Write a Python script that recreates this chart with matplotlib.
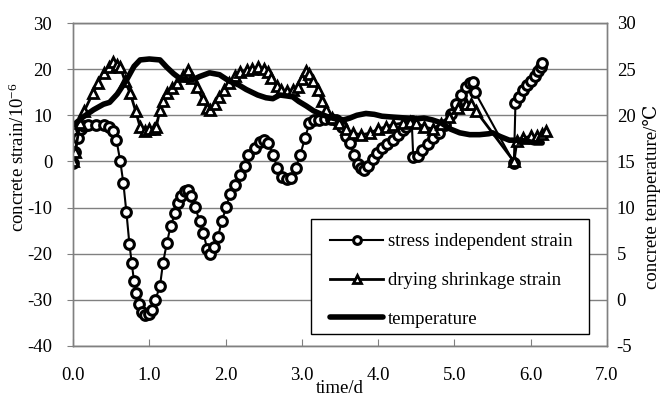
import matplotlib
matplotlib.use("Agg")
import matplotlib.pyplot as plt
from matplotlib.patches import Rectangle

# ── Data ─────────────────────────────────────────────────────────────────────
t_stress = [0.00, 0.03, 0.06, 0.10, 0.15, 0.20, 0.30, 0.40, 0.47, 0.52, 0.57, 0.62,
            0.66, 0.70, 0.74, 0.77, 0.80, 0.83, 0.87, 0.91, 0.95, 0.99, 1.03, 1.08,
            1.14, 1.18, 1.23, 1.28, 1.34, 1.38, 1.42, 1.47, 1.51, 1.55, 1.60, 1.66,
            1.71, 1.76, 1.80, 1.85, 1.90, 1.95, 2.01, 2.06, 2.12, 2.19, 2.25, 2.30,
            2.38, 2.45, 2.50, 2.56, 2.62, 2.68, 2.74, 2.80, 2.86, 2.92, 2.98, 3.04,
            3.10, 3.16, 3.23, 3.30, 3.38, 3.45, 3.52, 3.58, 3.63, 3.68, 3.73, 3.78,
            3.82, 3.87, 3.93, 3.98, 4.05, 4.12, 4.19, 4.26, 4.32, 4.37, 4.44, 4.46,
            4.52, 4.58, 4.65, 4.72, 4.80, 4.88, 4.95, 5.02, 5.08, 5.15, 5.20, 5.24,
            5.27, 5.78, 5.80, 5.85, 5.90, 5.95, 6.00, 6.05, 6.10, 6.13, 6.15]
stress_strain = [-0.3, 2.0, 5.0, 7.0, 7.7, 7.8, 7.8, 7.8, 7.5, 6.5, 4.6, 0.0,
                 -4.7, -11.0, -18.0, -22.0, -26.0, -28.6, -31.0, -32.6, -33.2, -33.0, -32.2, -30.0,
                 -27.0, -22.0, -17.7, -14.0, -11.2, -9.0, -7.6, -6.5, -6.2, -7.5, -9.8, -13.0,
                 -15.6, -19.0, -20.0, -18.5, -16.3, -13.0, -9.8, -7.0, -5.0, -3.0, -1.0, 1.4,
                 3.0, 4.3, 4.6, 4.0, 1.5, -1.5, -3.3, -3.8, -3.5, -1.5, 1.5, 5.0,
                 8.3, 9.0, 9.0, 9.2, 9.2, 9.0, 7.5, 5.5, 3.9, 1.5, -0.5, -1.5,
                 -1.9, -1.0, 0.5, 1.8, 3.0, 3.8, 4.6, 5.8, 6.8, 7.5, 8.8, 1.0,
                 1.2, 2.5, 3.8, 5.0, 6.1, 8.0, 10.3, 12.5, 14.5, 16.2, 17.0, 17.2,
                 15.0, -0.3, 12.6, 14.0, 15.5, 16.5, 17.5, 18.5, 19.5, 20.5, 21.3]

t_dry = [0.00, 0.03, 0.09, 0.15, 0.26, 0.33, 0.40, 0.47, 0.53, 0.58, 0.62, 0.68,
         0.75, 0.82, 0.88, 0.94, 1.00, 1.06, 1.09, 1.14, 1.18, 1.23, 1.30, 1.36,
         1.44, 1.51, 1.56, 1.62, 1.70, 1.76, 1.80, 1.86, 1.92, 1.98, 2.05, 2.12,
         2.19, 2.28, 2.35, 2.43, 2.50, 2.55, 2.60, 2.67, 2.73, 2.80, 2.88, 2.95,
         3.00, 3.06, 3.10, 3.15, 3.21, 3.27, 3.32, 3.40, 3.49, 3.58, 3.67, 3.78,
         3.89, 4.00, 4.10, 4.20, 4.32, 4.42, 4.50, 4.60, 4.72, 4.82, 4.93, 5.05,
         5.15, 5.22, 5.28, 5.78, 5.82, 5.90, 6.00, 6.08, 6.15, 6.20]
dry_strain = [0.0, 2.0, 8.3, 11.0, 14.8, 17.0, 19.1, 20.5, 21.6, 21.0, 20.5, 17.5,
              14.8, 11.0, 7.5, 6.5, 7.0, 7.0, 7.5, 11.1, 13.0, 14.8, 16.0, 16.9,
              18.5, 19.8, 18.0, 16.2, 13.5, 11.5, 11.1, 12.5, 14.0, 15.5, 16.9, 18.5,
              19.4, 19.8, 20.0, 20.5, 20.0, 19.3, 18.0, 16.4, 15.5, 15.3, 15.5, 16.2,
              17.8, 19.5, 19.0, 17.5, 15.5, 13.0, 11.1, 9.5, 8.3, 7.0, 6.1, 5.8,
              6.1, 7.0, 7.5, 8.0, 8.3, 8.5, 8.3, 7.5, 7.0, 8.2, 9.7, 11.5,
              12.5, 12.5, 11.0, 0.0, 4.5, 5.0, 5.5, 5.5, 6.0, 6.5]

t_temp = [0.00, 0.13, 0.27, 0.40, 0.48, 0.58, 0.70, 0.80, 0.88, 1.00, 1.14, 1.23,
          1.32, 1.40, 1.49, 1.58, 1.66, 1.79, 1.92, 2.05, 2.17, 2.27, 2.42, 2.53,
          2.62, 2.71, 2.80, 2.88, 2.96, 3.06, 3.15, 3.23, 3.35, 3.45, 3.55, 3.63,
          3.72, 3.84, 3.95, 4.05, 4.20, 4.37, 4.50, 4.60, 4.71, 4.82, 4.95, 5.07,
          5.20, 5.33, 5.45, 5.50, 5.60, 5.72, 5.85, 5.95, 6.05, 6.15]
temperature = [18.9, 19.8, 20.6, 21.2, 21.4, 22.3, 23.8, 25.3, 26.0, 26.1, 26.0, 25.2,
               24.5, 24.0, 23.8, 23.9, 24.2, 24.6, 24.4, 23.7, 23.3, 22.8, 22.2, 21.9,
               21.8, 22.2, 22.1, 22.0, 21.5, 21.0, 20.5, 20.2, 19.8, 19.6, 19.5, 19.7,
               20.0, 20.2, 20.1, 19.9, 19.8, 19.7, 19.6, 19.7, 19.5, 19.2, 18.5, 18.1,
               17.9, 17.9, 18.0, 18.1, 17.7, 17.3, 17.3, 17.2, 17.0, 17.0]

x_ticks = [0, 1, 2, 3, 4, 5, 6, 7]
x_tick_labels = ["0.0", "1.0", "2.0", "3.0", "4.0", "5.0", "6.0", "7.0"]
strain_ticks = [-40, -30, -20, -10, 0, 10, 20, 30]
temp_ticks = [-5, 0, 5, 10, 15, 20, 25, 30]

# ── Style ────────────────────────────────────────────────────────────────────
plt.rcParams["font.family"] = ["Liberation Serif", "DejaVu Serif", "DejaVu Sans"]
plt.rcParams["mathtext.fontset"] = "custom"
plt.rcParams["mathtext.rm"] = "Liberation Serif"
plt.rcParams["mathtext.default"] = "regular"
plt.rcParams["axes.unicode_minus"] = False

FS = 13.5
GRID = "#808080"
W, H = 669, 396

fig = plt.figure(figsize=(W / 100, H / 100), dpi=100)
ax = fig.add_axes([73 / W, 1 - 346 / H, 534 / W, 323 / H])
ax2 = ax.twinx()

l1, = ax.plot(t_stress, stress_strain, color="black", lw=1.5, marker="o",
              ms=7, mfc="white", mec="black", mew=2.2,
              label="stress independent strain")
l2, = ax.plot(t_dry, dry_strain, color="black", lw=2.0, marker="^",
              ms=7, mfc="white", mec="black", mew=2.0,
              label="drying shrinkage strain")
l3, = ax2.plot(t_temp, temperature, color="black", lw=4.0,
               solid_capstyle="round", label="temperature")

# ── Axes ─────────────────────────────────────────────────────────────────────
ax.set_xlim(0, 7)
ax.set_ylim(-40, 30)
ax2.set_ylim(-5, 30)
ax.set_xticks(x_ticks)
ax.set_xticklabels(x_tick_labels)
ax.set_yticks(strain_ticks)
ax2.set_yticks(temp_ticks)

ax.grid(axis="y", color=GRID, lw=1.0)
ax.set_axisbelow(True)
for a in (ax, ax2):
    for sp in a.spines.values():
        sp.set_color(GRID)
        sp.set_linewidth(1.0)

ax.tick_params(axis="x", direction="in", length=5, color=GRID, pad=15, labelsize=FS)
ax.tick_params(axis="y", direction="out", length=4, color=GRID, pad=11, labelsize=FS)
ax2.tick_params(axis="y", direction="out", length=0, pad=7, labelsize=FS)

ax.set_xlabel("time/d", fontsize=FS)
ax.xaxis.set_label_coords(0.5, -0.106)
ax.set_ylabel("concrete strain/10$^{-6}$", fontsize=FS)
ax.yaxis.set_label_coords(-0.085, 0.585)
ax2.set_ylabel("concrete temperature/\u2103", fontsize=FS, rotation=90)
ax2.yaxis.set_label_coords(1.067, 0.461)

# legend box drawn separately so its padding matches the reference
box = Rectangle((311 / W, 1 - 334 / H), (589 - 311) / W, (334 - 219) / H,
                transform=fig.transFigure, facecolor="white", edgecolor="black",
                lw=1.0, zorder=4)
ax2.add_patch(box)
leg = ax2.legend(handles=[l1, l2, l3], loc="upper left",
                 bbox_to_anchor=(321 / W, 1 - 224 / H),
                 bbox_transform=fig.transFigure, borderaxespad=0,
                 fontsize=FS, frameon=False, numpoints=1,
                 handlelength=2.8, handletextpad=0.25, labelspacing=1.15,
                 borderpad=0.5, markerscale=0.8)
leg.set_zorder(5)

fig.savefig("out.png", dpi=100)
